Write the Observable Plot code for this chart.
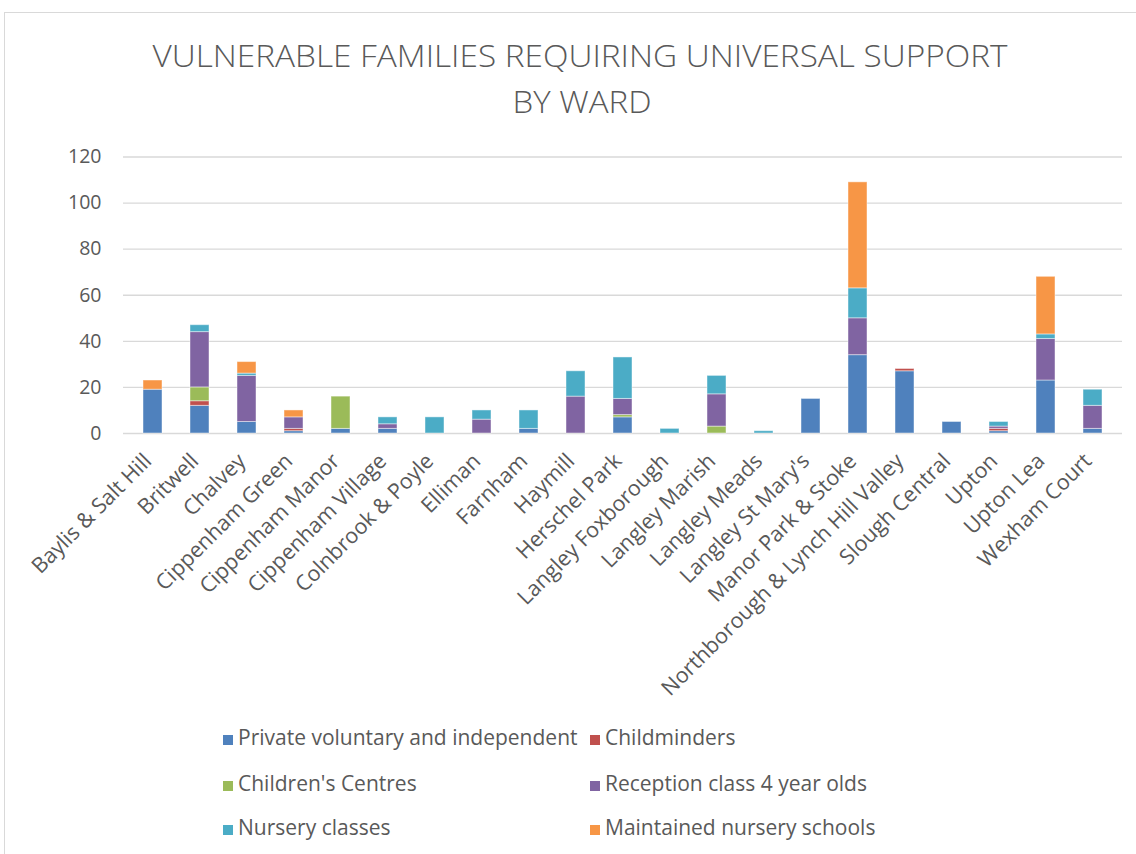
<!DOCTYPE html>
<html>
<head>
<meta charset="utf-8">
<script src="https://cdn.jsdelivr.net/npm/d3@7"></script>
<script src="https://cdn.jsdelivr.net/npm/@observablehq/plot@0.6"></script>
<style>
  html, body { margin: 0; padding: 0; background: #fff; overflow: hidden; }
  body { width: 1136px; height: 854px; position: relative; font-family: "Open Sans", sans-serif; color: #595959; }
  #frame { position: absolute; left: 4px; top: 12px; width: 1150px; height: 900px; border: 1px solid #d9d9d9; box-sizing: border-box; }
  #title { position: absolute; left: 0; top: 0; }
  #chart { position: absolute; left: 0; top: 140px; }
  .leg { position: absolute; font-size: 21px; line-height: 20px; white-space: nowrap; color: #595959; }
  .leg .sw { position: absolute; left: 0; top: 5px; width: 10px; height: 10px; }
  .leg .lb { position: absolute; left: 15px; top: -3px; }
</style>
</head>
<body>
<div id="frame"></div>
<svg id="title" width="1136" height="140"></svg>
<div id="chart"></div>
<div id="legend"></div>
<script>
const wards = ["Baylis & Salt Hill","Britwell","Chalvey","Cippenham Green","Cippenham Manor","Cippenham Village","Colnbrook & Poyle","Elliman","Farnham","Haymill","Herschel Park","Langley Foxborough","Langley Marish","Langley Meads","Langley St Mary's","Manor Park & Stoke","Northborough & Lynch Hill Valley","Slough Central","Upton","Upton Lea","Wexham Court"];
const seriesNames = ["Private voluntary and independent","Childminders","Children's Centres","Reception class 4 year olds","Nursery classes","Maintained nursery schools"];
const seriesColors = ["#4F81BD","#C0504D","#9BBB59","#8064A2","#4BACC6","#F79646"];
const privateVoluntary = [19,12,5,1,2,2,0,0,2,0,7,0,0,0,15,34,27,5,1,23,2];
const childminders     = [0,2,0,1,0,0,0,0,0,0,0,0,0,0,0,0,1,0,1,0,0];
const childrensCentres = [0,6,0,0,14,0,0,0,0,0,1,0,3,0,0,0,0,0,0,0,0];
const reception        = [0,24,20,5,0,2,0,6,0,16,7,0,14,0,0,16,0,0,1,18,10];
const nurseryClasses   = [0,3,1,0,0,3,7,4,8,11,18,2,8,1,0,13,0,0,2,2,7];
const maintainedNursery= [4,0,5,3,0,0,0,0,0,0,0,0,0,0,0,46,0,0,0,25,0];
const yTicks = [0,20,40,60,80,100,120];
const titleLines = ["VULNERABLE FAMILIES REQUIRING UNIVERSAL SUPPORT","BY WARD"];

const seriesValues = [privateVoluntary, childminders, childrensCentres, reception, nurseryClasses, maintainedNursery];
const data = [];
wards.forEach((w, i) => {
  seriesNames.forEach((s, j) => {
    data.push({ward: w, series: s, value: seriesValues[j][i]});
  });
});

// Title
const tsvg = d3.select("#title");
tsvg.append("text").attr("x", 580).attr("y", 67).attr("text-anchor", "middle")
  .attr("font-family", "Open Sans, sans-serif").attr("font-size", 31).attr("font-weight", 300)
  .attr("fill", "#595959").attr("textLength", 855).attr("lengthAdjust", "spacingAndGlyphs")
  .text(titleLines[0]);
tsvg.append("text").attr("x", 582).attr("y", 113).attr("text-anchor", "middle")
  .attr("font-family", "Open Sans, sans-serif").attr("font-size", 31).attr("font-weight", 300)
  .attr("fill", "#595959").attr("textLength", 139).attr("lengthAdjust", "spacingAndGlyphs")
  .text(titleLines[1]);

const chart = Plot.plot({
  width: 1136,
  height: 580,
  marginLeft: 123,
  marginRight: 14,
  marginTop: 16.5,
  marginBottom: 287,
  style: {fontFamily: "Open Sans, sans-serif", fontSize: "19.5px", color: "#595959", background: "transparent"},
  x: {domain: wards, paddingInner: 0.59, paddingOuter: 0.295, label: null},
  y: {domain: [0, 120], label: null},
  color: {domain: seriesNames, range: seriesColors},
  marks: [
    Plot.ruleY(yTicks, {stroke: "#d9d9d9", strokeWidth: 1.3}),
    Plot.barY(data, Plot.stackY({x: "ward", y: "value", fill: "series", stroke: "#ffffff", strokeOpacity: 0.45, strokeWidth: 1})),
    Plot.axisY({ticks: yTicks, tickSize: 0, tickPadding: 22, fill: "#595959", fontSize: "19.5px"}),
    Plot.axisX({tickSize: 0, tickPadding: 24, tickRotate: -45, dx: -5, fill: "#595959", fontSize: "21.5px"})
  ]
});
document.getElementById("chart").appendChild(chart);

// Legend
const legendPos = [[223,730],[590,730],[223,776],[590,776],[223,820],[590,820]];
const leg = document.getElementById("legend");
seriesNames.forEach((s, j) => {
  const d = document.createElement("div");
  d.className = "leg";
  d.style.left = legendPos[j][0] + "px";
  d.style.top = legendPos[j][1] + "px";
  d.innerHTML = `<span class="sw" style="background:${seriesColors[j]}"></span><span class="lb"></span>`;
  d.querySelector(".lb").textContent = s;
  leg.appendChild(d);
});
</script>
</body>
</html>
